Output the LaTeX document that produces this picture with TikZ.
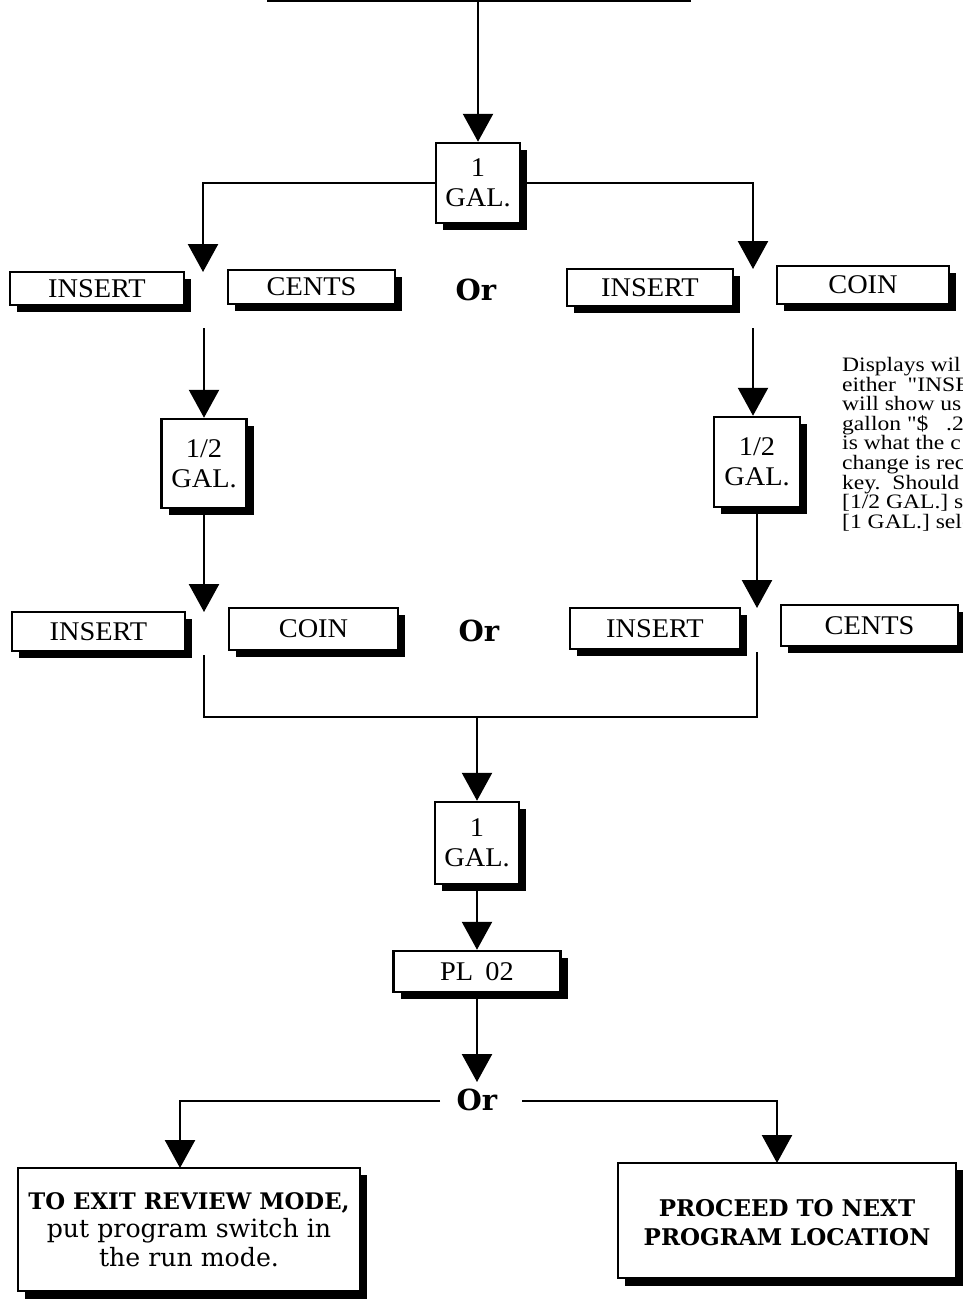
\documentclass[tikz,border=0pt]{standalone}
\usepackage{fontspec}
\setmainfont{Liberation Serif}
\newfontfamily\boxfont{Liberation Serif}[FakeStretch=1.05]
\newfontfamily\notefont{Liberation Serif}[FakeStretch=1.15]
\newfontfamily\heavy{DejaVu Serif}
\usetikzlibrary{arrows.meta,shadows}
\newcommand{\sq}{\symbol{34}}
\tikzset{
  box/.style={draw, line width=2.5pt, fill=white, inner sep=0pt, align=center,
    font=\boxfont\fontsize{27}{30}\selectfont,
    drop shadow={shadow xshift=7pt, shadow yshift=-7pt, fill=black, opacity=1}},
  bigbox/.style={box, drop shadow={shadow xshift=7pt, shadow yshift=-8pt, fill=black, opacity=1}},
  conn/.style={line width=2.5pt},
  arr/.style={conn, -{Triangle[width=30pt,length=28pt]}},
  ortext/.style={font=\heavy\bfseries\fontsize{29}{30}\selectfont, inner sep=0pt}
}
\begin{document}
\begin{tikzpicture}[x=1pt,y=-1pt]
\useasboundingbox (0,0) rectangle (963,1307);
% top box (only bottom edge visible)
\node[draw, line width=2.5pt, minimum width=422pt, minimum height=60pt, anchor=south] (topbox) at (479,1.5) {};
% first 1 GAL.
\node[box, minimum width=84pt, minimum height=80pt] (gal1) at (478,183) {1\\GAL.};
\draw[arr] (gal1.north |- topbox.south) -- (gal1.north);
% branch tips
\coordinate (tipL1) at (203,272);
\coordinate (tipR1) at (753,269);
\draw[arr] (gal1.west) -| (tipL1);
\draw[arr] (gal1.east) -| (tipR1);
% row 1
\node[box, minimum width=174pt, minimum height=33pt] (insL1) at (97,288.5) {INSERT};
\node[box, minimum width=167pt, minimum height=34pt] (centsL1) at (311.5,287) {CENTS};
\node[ortext] (or1) at (476,290) {Or};
\node[box, minimum width=166pt, minimum height=37pt] (insR1) at (650,287.5) {INSERT};
\node[box, minimum width=172pt, minimum height=38pt] (coinR1) at (863,285) {COIN};
% explanatory text (cut by the page edge)
\node[anchor=north west, align=left, inner sep=0pt,
  font=\notefont\fontsize{20.5}{19.6}\selectfont] (note) at (842,357) {Displays wil\\
either\ \ \sq INSE\\
will show us\\
gallon \sq\$\ \ \ .2\\
is what the c\\
change is rec\\
key.\ \ Should\\
{[}1/2 GAL.{]} s\\
{[}1 GAL.{]} sele};
% 1/2 GAL boxes
\node[box, minimum width=85pt, minimum height=89pt] (halfL) at (204,463.5) {1/2\\GAL.};
\node[box, minimum width=86pt, minimum height=90pt] (halfR) at (757,462) {1/2\\GAL.};
\coordinate (startL1) at (204,328);
\coordinate (startR1) at (753,328);
\draw[arr] (startL1) -- (halfL.north);
\draw[arr] (startR1) -- (halfR.north -| startR1);
% row 2
\coordinate (tipL2) at (204,612);
\coordinate (tipR2) at (757,608);
\draw[arr] (halfL.south) -- (tipL2);
\draw[arr] (halfR.south) -- (tipR2);
\node[box, minimum width=173pt, minimum height=39pt] (insL2) at (98.5,631.5) {INSERT};
\node[box, minimum width=169pt, minimum height=42pt] (coinL2) at (313.5,629) {COIN};
\node[ortext] (or2) at (479,631) {Or};
\node[box, minimum width=170pt, minimum height=41pt] (insR2) at (655,628.5) {INSERT};
\node[box, minimum width=177pt, minimum height=41pt] (centsR2) at (869.5,625.5) {CENTS};
% bracket
\coordinate (startL2) at (204,655);
\coordinate (startR2) at (757,652);
\coordinate (brL) at (204,717);
\coordinate (brR) at (757,717);
\draw[conn] (startL2) -- (brL) -- (brR) -- (startR2);
% lower chain
\node[box, minimum width=84pt, minimum height=82pt] (gal2) at (477,843) {1\\GAL.};
\draw[arr] (gal2.north |- brL) -- (gal2.north);
\node[box, minimum width=167pt, minimum height=41pt] (pl02) at (477,971.5) {PL\hspace{0.45em}02};
\draw[arr] (gal2.south) -- (pl02.north);
\node[ortext] (or3) at (477,1100) {Or};
\coordinate (tip3) at (477,1082);
\draw[arr] (pl02.south) -- (tip3);
% final boxes
\node[bigbox, minimum width=342pt, minimum height=123pt] (exitbox) at (189,1229.5) {%
  {\heavy\bfseries\fontsize{22.8}{31}\selectfont TO EXIT REVIEW MODE,}\\[-2pt]
  {\heavy\fontsize{25.2}{31}\selectfont put program switch in}\\[-1pt]
  {\heavy\fontsize{25.2}{31}\selectfont the run mode.}};
\node[bigbox, minimum width=338pt, minimum height=115pt,
  font=\heavy\bfseries\fontsize{23}{29}\selectfont] (procbox) at (787,1220.5) {\rule{0pt}{22pt}PROCEED TO NEXT\\PROGRAM LOCATION};
\coordinate (orL) at (440,1101);
\coordinate (orR) at (522,1101);
\coordinate (exTip) at (180,1168);
\coordinate (prTip) at (777,1163);
\draw[arr] (orL) -| (exTip);
\draw[arr] (orR) -| (prTip);
\end{tikzpicture}
\end{document}
